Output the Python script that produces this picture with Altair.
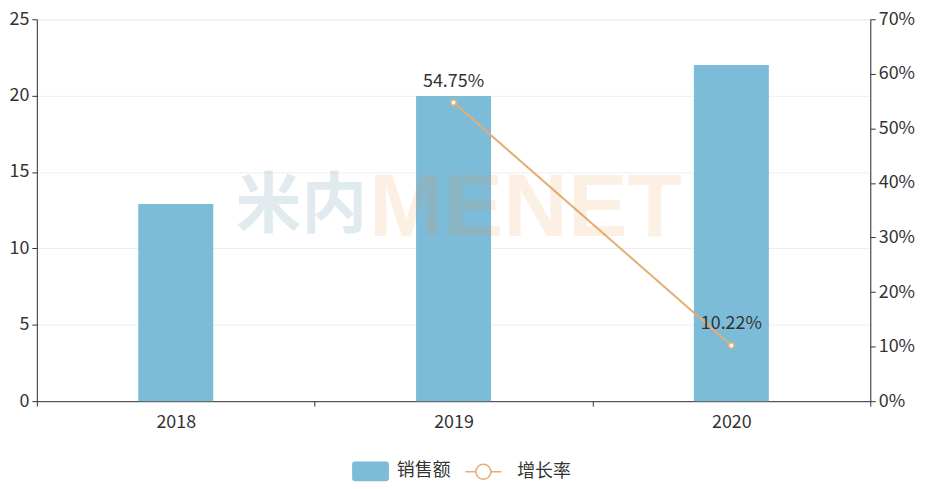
import altair as alt
import pandas as pd

years = ["2018", "2019", "2020"]
sales = [12.9, 19.97, 22.0]
growth = [None, 54.75, 10.22]
growth_labels = ["", "54.75%", "10.22%"]

df = pd.DataFrame({
    "年份": years,
    "销售额": sales,
    "增长率": growth,
    "标签": growth_labels,
    "s": ["销售额"] * 3,
    "g": ["增长率"] * 3,
})

FONT = "Noto Sans CJK SC"
BAR = "#7dbcd9"
LINE = "#e5ad74"
TXT = "#333333"
FS = 18

x = alt.X("年份:N", title=None, sort=years,
          scale=alt.Scale(paddingInner=0, paddingOuter=0),
          axis=alt.Axis(labelAngle=0, labelFontSize=FS, labelColor=TXT,
                        domainColor="#333", tickColor="#333", tickBand="extent",
                        tickSize=5, labelPadding=7, labelFont=FONT))

bars = alt.Chart(df).mark_bar(width=alt.RelativeBandSize(0.27)).encode(
    x=x,
    y=alt.Y("销售额:Q", title=None,
            scale=alt.Scale(domain=[0, 25]),
            axis=alt.Axis(values=[0, 5, 10, 15, 20, 25], labelFontSize=FS,
                          labelColor=TXT, domainColor="#333", tickColor="#333",
                          gridColor="#eeeeee", tickSize=5, labelFont=FONT,
                          labelPadding=3)),
    fill=alt.Fill("s:N", title=None,
                  scale=alt.Scale(domain=["销售额"], range=[BAR]),
                  legend=alt.Legend(orient="none", legendX=322, legendY=441,
                                    symbolType="M-1.2,-0.75L1.2,-0.75A0.2,0.2 0 0 1 1.4,-0.55L1.4,0.55A0.2,0.2 0 0 1 1.2,0.75L-1.2,0.75A0.2,0.2 0 0 1 -1.4,0.55L-1.4,-0.55A0.2,0.2 0 0 1 -1.2,-0.75Z",
                                    symbolSize=700, symbolStrokeWidth=0,
                                    labelFontSize=FS, labelColor=TXT,
                                    labelFont=FONT, labelOffset=13)),
)

wm1 = alt.Chart(pd.DataFrame({"t": ["米内"]})).mark_text(
    fontSize=66, fontWeight="bold", color="#3e7a94", align="left", baseline="middle",
    font=FONT, opacity=0.15
).encode(text="t:N", x=alt.value(200), y=alt.value(189))
wm2 = alt.Chart(pd.DataFrame({"t": ["MENET"]})).mark_text(
    fontSize=90, fontWeight="bold", color="#ee8a2f", align="left", baseline="middle",
    font="Liberation Sans", opacity=0.12
).encode(text="t:N", x=alt.value(334), y=alt.value(191))

yr = alt.Y("增长率:Q", title=None,
           scale=alt.Scale(domain=[0, 70]),
           axis=alt.Axis(orient="right", values=[0, 10, 20, 30, 40, 50, 60, 70],
                         labelExpr="datum.value + '%'", labelFontSize=FS,
                         labelColor=TXT, domainColor="#333", tickColor="#333",
                         grid=False, tickSize=5, labelFont=FONT, labelPadding=3))

base = alt.Chart(df).transform_filter("datum['增长率'] != null")

line = base.mark_line(strokeWidth=2).encode(
    x=x, y=yr,
    stroke=alt.Stroke("g:N", title=None,
                      scale=alt.Scale(domain=["增长率"], range=[LINE]),
                      legend=alt.Legend(orient="none", legendX=430, legendY=436,
                                        symbolType="M-1,0L-0.42,0M0.42,0L1,0M0.42,0A0.42,0.42 0 1 1 -0.42,0A0.42,0.42 0 1 1 0.42,0",
                                        symbolSize=1296, symbolStrokeWidth=1.5,
                                        symbolFillColor="white",
                                        labelFontSize=FS, labelColor=TXT,
                                        labelFont=FONT, labelOffset=15)),
)
pts = base.mark_point(filled=True, fill="white", stroke=LINE, strokeWidth=1.5,
                      size=30, opacity=1).encode(x=x, y=yr)
txt = base.mark_text(fontSize=FS, color=TXT, baseline="bottom", dy=-12,
                     font=FONT).encode(x=x, y=yr, text="标签:N")

right = alt.layer(line, pts, txt)

chart = alt.layer(bars, right, wm1, wm2).resolve_scale(
    y="independent", fill="independent", stroke="independent"
).properties(
    width=838, height=384,
    padding={"left": 1, "top": 1, "right": 5, "bottom": 5},
).configure_view(stroke=None).configure(font=FONT)

chart.save("out.html", embed_options={"renderer": "svg", "actions": False})
